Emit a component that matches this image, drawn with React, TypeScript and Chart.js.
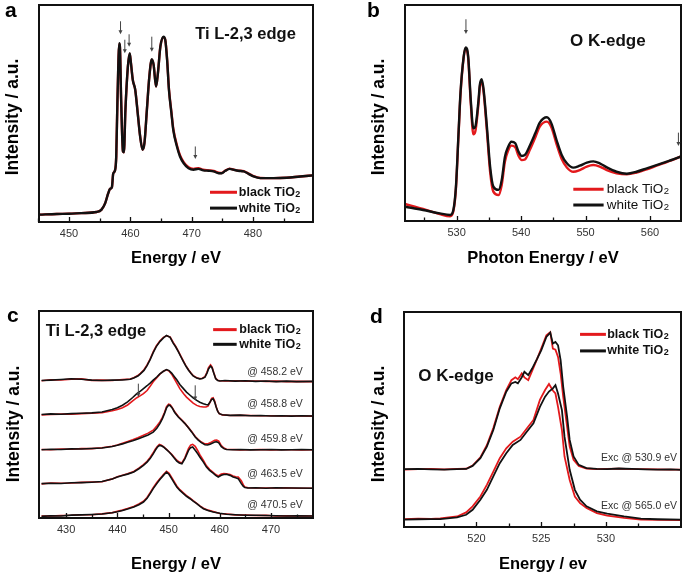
import React, { useEffect, useRef } from "react";
import { Chart, registerables } from "chart.js";

Chart.register(...registerables);

const FONT = "'Liberation Sans', Arial, Helvetica, sans-serif";
const RED = "#e3191c";
const BLACK = "#111111";

// ---------------- Panel a : Ti L-2,3 edge (TEY) ----------------
const aEnergy = [445.2, 448, 450, 452, 454.5, 455.3, 455.9, 456.4, 456.7, 457.0, 457.2, 457.5, 457.7, 457.9, 458.2, 458.3, 458.5, 458.8, 458.95, 459.2, 459.6, 459.9, 460.1, 460.4, 460.8, 461.2, 461.6, 462.0, 462.3, 462.7, 463.1, 463.5, 463.8, 464.2, 464.5, 464.9, 465.4, 465.7, 466.0, 466.3, 466.7, 467.0, 467.6, 468.1, 468.7, 469.5, 470.3, 471.1, 471.9, 472.8, 473.6, 474.4, 474.9, 475.5, 476.2, 476.8, 477.6, 478.5, 479.3, 480.1, 481.2, 483.4, 485.5, 487.7, 489.8];
const aWhite = [3.4, 3.7, 3.8, 4.1, 4.6, 5.7, 8.7, 13.3, 15.3, 16.1, 22.2, 23.8, 30.2, 56.3, 82.4, 80.8, 56.3, 32.5, 32.1, 51.7, 71.6, 77.8, 73.2, 65.5, 60.9, 50.2, 39.4, 33.3, 36.3, 51.7, 67.0, 75.0, 72.4, 62.4, 68.6, 80.8, 85.4, 83.9, 74.7, 60.9, 50.2, 42.5, 34.8, 30.2, 27.1, 24.8, 24.1, 24.5, 23.8, 23.6, 23.3, 22.5, 22.5, 23.6, 24.5, 24.1, 23.6, 23.3, 22.2, 21.0, 20.2, 20.2, 20.4, 21.0, 21.5];
const aBlack = [3.4, 3.7, 3.8, 4.1, 4.6, 5.7, 8.7, 13.3, 15.3, 16.1, 22.2, 23.8, 30.2, 56.3, 82.0, 80.6, 56.3, 32.5, 32.1, 51.7, 71.6, 77.6, 73.2, 65.5, 60.9, 50.4, 39.6, 33.3, 36.3, 51.7, 67.0, 74.8, 72.4, 62.4, 68.6, 80.8, 85.2, 83.9, 74.9, 61.3, 50.8, 43.1, 35.4, 30.8, 27.6, 25.2, 24.5, 24.8, 24.1, 23.8, 23.5, 22.7, 22.6, 23.7, 24.6, 24.2, 23.7, 23.4, 22.3, 21.1, 20.3, 20.2, 20.4, 21.0, 21.5];

// ---------------- Panel b : O K-edge (TEY) ----------------
const bEnergy = [522.0, 524.8, 527.4, 529.0, 529.5, 529.9, 530.3, 530.6, 531.1, 531.4, 531.8, 532.2, 532.6, 532.9, 533.4, 533.6, 533.9, 534.2, 534.7, 535.2, 535.7, 536.5, 537.0, 537.5, 538.0, 538.5, 539.1, 539.6, 540.1, 540.6, 541.4, 542.2, 542.9, 544.0, 544.7, 545.5, 546.3, 547.1, 548.1, 549.1, 550.2, 551.2, 552.2, 553.3, 554.8, 556.4, 557.9, 559.5, 561.0, 562.6, 563.6, 564.7];
const bWhite = [6.6, 5.1, 3.5, 2.8, 5.1, 15.9, 40.6, 59.1, 76.1, 80.4, 76.1, 56.0, 42.9, 43.7, 56.0, 63.0, 65.7, 60.6, 43.7, 25.2, 15.9, 14.4, 19.0, 29.8, 34.4, 36.7, 36.0, 32.1, 30.1, 30.6, 35.2, 40.6, 45.5, 48.0, 45.2, 37.5, 30.6, 26.7, 24.7, 25.6, 27.0, 27.6, 26.7, 24.8, 22.8, 21.9, 22.8, 24.4, 25.9, 27.5, 28.5, 29.8];
const bBlack = [7.9, 5.6, 3.2, 2.2, 4.5, 15.1, 39.8, 58.3, 75.8, 79.9, 75.3, 54.5, 40.1, 41.4, 54.5, 61.9, 64.8, 59.4, 41.8, 22.8, 13.6, 12.0, 16.7, 27.5, 32.6, 34.9, 34.1, 30.2, 28.2, 28.5, 33.2, 38.7, 43.7, 46.0, 43.4, 35.6, 28.7, 24.8, 22.8, 23.6, 25.2, 25.9, 25.2, 23.6, 22.1, 21.6, 22.4, 23.9, 25.6, 27.3, 28.4, 29.8];

// ---------------- Panel c : Ti L-2,3 edge RIXS at several excitations ----------------
const cExcitations = ["@ 458.2 eV", "@ 458.8 eV", "@ 459.8 eV", "@ 463.5 eV", "@ 470.5 eV"];

const c1Energy = [425.2, 427, 429, 431, 433, 435, 437, 439, 441, 442.5, 443.2, 444, 444.5, 445.2, 445.8, 446.4, 447, 447.6, 448.3, 449, 449.6, 450.3, 450.9, 451.4, 451.9, 452.4, 452.9, 453.4, 453.9, 454.4, 454.8, 455.5, 456.1, 456.6, 457.1, 457.5, 457.8, 458.2, 458.5, 458.8, 459.2, 459.6, 460, 461, 463, 465, 467, 469, 471, 473, 475, 478.2];
const c1White = [66.4, 66.6, 66.9, 67.3, 67.0, 66.6, 66.4, 66.6, 66.7, 67.0, 67.6, 68.6, 69.6, 71.3, 73.6, 76.5, 79.9, 82.8, 85.2, 87.0, 88.2, 87.3, 84.5, 82.6, 80.4, 77.9, 75.5, 73.3, 71.4, 69.8, 68.6, 67.6, 67.2, 67.4, 68.0, 70.0, 72.0, 73.4, 72.5, 70.2, 67.3, 66.4, 66.2, 66.4, 66.1, 66.3, 66.0, 66.2, 65.9, 66.1, 65.9, 66.0];
const c1Black = [66.3, 66.8, 66.7, 67.1, 67.2, 66.5, 66.6, 66.4, 66.9, 67.1, 67.8, 68.8, 69.9, 71.6, 74.0, 76.8, 80.3, 83.1, 85.5, 87.3, 88.0, 87.5, 84.8, 82.9, 80.6, 78.2, 75.8, 73.5, 71.6, 69.9, 68.8, 67.8, 67.3, 67.5, 68.3, 70.4, 72.6, 74.0, 72.9, 70.4, 67.5, 66.5, 66.3, 66.2, 66.3, 66.1, 66.2, 66.0, 66.1, 65.9, 66.0, 65.9];

const c2Energy = [425.2, 427, 429, 431, 433, 435, 437, 439, 440, 441, 442, 443, 443.8, 444.5, 445.1, 445.8, 446.4, 447, 447.7, 448.3, 449, 449.6, 450.1, 450.6, 451.1, 451.6, 452.2, 452.9, 453.5, 454.2, 454.8, 455.5, 456.1, 456.8, 457.3, 457.7, 458.1, 458.4, 458.7, 459, 459.3, 459.6, 459.9, 460.5, 462, 464, 466, 468, 470, 472, 474, 476, 478.2];
const c2White = [50.0, 50.3, 50.1, 50.4, 50.6, 50.8, 51.2, 52.4, 53.3, 54.5, 56.1, 58.2, 60.1, 61.3, 62.5, 63.9, 65.2, 66.6, 68.1, 69.6, 70.9, 71.7, 71.2, 70.0, 68.4, 66.8, 64.5, 62.5, 60.8, 59.3, 58.0, 56.8, 55.9, 55.2, 54.8, 54.6, 56.0, 57.3, 57.6, 56.0, 53.5, 51.5, 50.4, 49.9, 49.6, 49.7, 49.4, 49.5, 49.3, 49.4, 49.2, 49.4, 49.3];
const c2Black = [49.8, 50.0, 50.2, 50.2, 50.4, 50.6, 50.9, 51.8, 52.4, 53.3, 54.6, 56.6, 58.1, 59.1, 60.1, 61.6, 63.6, 65.8, 67.8, 69.5, 70.9, 71.6, 71.0, 69.5, 67.4, 65.2, 62.5, 60.1, 58.4, 56.8, 55.5, 54.4, 53.9, 53.6, 53.6, 54.0, 56.0, 57.8, 58.1, 56.5, 53.8, 51.6, 50.4, 49.8, 49.5, 49.6, 49.5, 49.4, 49.4, 49.3, 49.3, 49.3, 49.2];

const c3Energy = [425.2, 427, 429, 431, 433, 435, 437, 439, 440, 441, 442, 443, 444, 445, 446, 447, 447.7, 448.3, 448.8, 449.2, 449.6, 450, 450.3, 450.7, 451.2, 451.9, 452.6, 453.2, 453.8, 454.5, 455.2, 455.8, 456.4, 457.1, 457.6, 458.1, 458.6, 459, 459.4, 459.8, 460.3, 460.8, 461.3, 462.5, 464, 466, 468, 470, 472, 474, 476, 478.2];
const c3White = [33.0, 33.2, 33.1, 33.4, 33.3, 33.6, 33.8, 34.5, 35.1, 35.8, 36.6, 37.3, 38.2, 39.1, 40.1, 41.5, 43.3, 45.6, 48.0, 50.4, 53.2, 54.5, 54.4, 53.2, 51.0, 48.8, 47.1, 45.6, 43.8, 41.6, 39.1, 37.6, 36.4, 35.4, 35.3, 35.6, 36.2, 36.7, 36.8, 36.3, 34.5, 33.5, 33.1, 33.0, 33.1, 32.9, 33.0, 33.1, 32.9, 33.0, 33.1, 33.0];
const c3Black = [33.1, 33.0, 33.3, 33.2, 33.5, 33.5, 33.9, 34.7, 35.3, 36.1, 36.9, 37.8, 38.8, 39.9, 41.0, 42.4, 44.5, 46.4, 48.6, 51.0, 53.8, 55.0, 54.7, 53.4, 51.3, 49.0, 47.3, 45.7, 43.9, 41.8, 39.4, 37.9, 36.7, 35.8, 35.8, 36.3, 37.0, 37.5, 37.6, 37.1, 35.0, 33.8, 33.2, 33.1, 32.9, 33.0, 33.1, 32.9, 33.0, 33.0, 32.9, 33.0];

const c4Energy = [425.2, 427, 429, 431, 433, 435, 437, 439, 440, 441, 442, 443.2, 444.2, 445.1, 445.8, 446.4, 447, 447.4, 447.8, 448.2, 448.6, 449, 449.6, 450.1, 450.6, 451.1, 451.6, 452.1, 452.6, 453.2, 453.6, 453.9, 454.3, 454.7, 455.2, 455.7, 456.1, 456.8, 457.4, 458, 458.7, 459.2, 459.7, 460.3, 460.8, 461.3, 462, 462.6, 463.1, 463.6, 464.2, 464.6, 464.9, 465.5, 467, 469, 471, 473, 475, 478.2];
const c4White = [16.6, 16.8, 16.7, 17.0, 17.1, 17.3, 17.6, 18.8, 19.8, 20.5, 21.2, 22.2, 23.8, 25.4, 27.0, 28.7, 31.0, 32.7, 34.2, 35.1, 34.9, 34.3, 33.0, 31.9, 30.6, 29.0, 27.5, 26.6, 26.2, 28.7, 31.0, 32.7, 34.0, 34.3, 32.7, 31.0, 29.5, 27.0, 24.6, 23.0, 21.7, 20.6, 19.8, 20.6, 21.0, 21.1, 20.6, 19.8, 19.4, 19.0, 16.6, 15.3, 14.7, 14.5, 14.6, 14.4, 14.6, 14.5, 14.5, 14.4];
const c4Black = [16.5, 16.9, 16.8, 16.9, 17.2, 17.4, 17.5, 18.9, 19.9, 20.7, 21.4, 22.5, 24.1, 25.8, 27.4, 29.2, 31.5, 33.2, 34.5, 35.5, 35.2, 34.5, 33.2, 32.0, 30.8, 29.3, 27.9, 27.0, 26.6, 29.2, 31.8, 33.6, 35.2, 35.6, 34.6, 32.5, 30.6, 27.8, 25.2, 23.5, 22.1, 21.0, 20.3, 21.2, 21.5, 21.4, 21.0, 20.3, 19.9, 19.8, 18.0, 16.0, 15.0, 14.6, 14.5, 14.5, 14.5, 14.6, 14.4, 14.4];

const c5Energy = [425.2, 427, 429, 431, 433, 435, 437, 439, 440, 441, 442, 443.2, 444.2, 445.1, 445.8, 446.4, 447, 447.7, 448.3, 449, 449.6, 450.1, 450.6, 451.1, 451.6, 452.2, 452.9, 453.5, 454.2, 454.8, 455.5, 456.1, 456.8, 457.7, 458.7, 460, 461.3, 463, 465, 467, 469, 471, 473, 475, 478.2];
const c5White = [0.8, 1.1, 1.0, 1.4, 1.5, 1.7, 1.9, 2.5, 3.0, 3.6, 4.3, 5.3, 6.4, 7.7, 9.5, 11.8, 14.2, 16.6, 18.6, 20.6, 22.2, 21.0, 19.0, 17.0, 15.0, 13.3, 11.8, 10.5, 9.3, 8.1, 6.9, 5.7, 4.5, 3.6, 2.9, 2.3, 1.8, 1.6, 1.3, 1.3, 1.2, 1.1, 1.0, 1.1, 1.0];
const c5Black = [0.9, 1.0, 1.2, 1.3, 1.6, 1.6, 2.0, 2.6, 3.2, 3.8, 4.6, 5.6, 6.8, 8.1, 9.9, 12.2, 14.7, 17.1, 19.0, 21.0, 22.6, 21.6, 19.6, 17.6, 15.5, 13.7, 12.1, 10.8, 9.6, 8.4, 7.1, 5.9, 4.7, 3.8, 3.1, 2.2, 1.9, 1.5, 1.4, 1.2, 1.3, 1.0, 1.1, 1.0, 1.0];

// ---------------- Panel d : O K-edge XES ----------------
const dExcitations = ["Exc @ 530.9 eV", "Exc @ 565.0 eV"];

const dUpperEnergy = [514.4, 515.5, 516.5, 517.5, 518.5, 519.2, 519.7, 520.3, 520.8, 521.3, 521.8, 522.3, 522.7, 523.0, 523.2, 523.5, 523.7, 524.0, 524.3, 524.7, 525.0, 525.4, 525.7, 525.9, 526.1, 526.3, 526.5, 526.7, 527.0, 527.2, 527.5, 527.9, 528.5, 529.3, 530.1, 531, 532, 533, 534, 535, 535.8];
const dUpperWhite = [26.9, 27.0, 26.8, 26.7, 26.9, 27.0, 28.4, 32.0, 37.4, 45.1, 55.2, 62.9, 66.8, 67.5, 66.8, 69.6, 72.2, 70.6, 73.7, 78.4, 82.2, 88.4, 90.4, 85.3, 86.1, 84.5, 77.6, 65.2, 51.3, 40.5, 32.8, 28.9, 27.4, 27.0, 26.9, 27.2, 27.0, 26.8, 26.7, 26.8, 26.6];
const dUpperBlack = [26.7, 26.9, 27.0, 26.8, 27.0, 27.1, 28.6, 32.4, 38.0, 46.0, 55.9, 63.7, 68.3, 69.6, 68.7, 71.4, 69.6, 68.3, 72.6, 78.4, 83.0, 89.2, 90.6, 83.0, 82.5, 79.1, 71.4, 60.6, 46.7, 37.4, 31.2, 28.4, 27.2, 26.9, 27.0, 27.1, 26.9, 26.9, 26.8, 26.7, 26.7];

const dLowerEnergy = [514.4, 515.5, 516.5, 517.2, 518.5, 519.2, 519.7, 520.3, 520.8, 521.3, 521.8, 522.3, 522.8, 523.4, 523.9, 524.4, 524.9, 525.3, 525.6, 525.9, 526.1, 526.3, 526.6, 526.8, 527.2, 527.6, 528.0, 528.5, 529.3, 530.1, 531.4, 532.7, 534, 535.8];
const dLowerWhite = [3.4, 3.6, 3.7, 3.7, 4.5, 5.7, 8.0, 12.7, 17.3, 23.5, 29.7, 34.3, 38.2, 40.5, 44.4, 48.2, 55.9, 60.6, 63.0, 64.5, 66.0, 62.1, 54.4, 42.0, 26.6, 17.3, 12.7, 9.6, 7.3, 6.2, 4.9, 3.9, 3.6, 3.4];
const dLowerBlack = [3.7, 3.9, 3.8, 4.0, 4.9, 6.8, 9.6, 14.2, 19.6, 25.8, 32.0, 36.6, 39.7, 42.0, 45.9, 49.8, 59.1, 63.7, 66.5, 63.5, 62.1, 55.9, 45.1, 32.8, 21.9, 14.2, 11.1, 8.8, 6.5, 5.3, 4.2, 3.4, 3.3, 3.2];

// ---------------- Tick labels ----------------
const aTicks = [450, 460, 470, 480];
const aMinor = [445, 455, 465, 475, 485];
const bTicks = [530, 540, 550, 560];
const bMinor = [525, 535, 545, 555];
const cTicks = [430, 440, 450, 460, 470];
const cMinor = [435, 445, 455, 465, 475];
const dTicks = [520, 525, 530];
const dMinor = [517.5, 522.5, 527.5, 532.5];

const LEGEND_LABELS = ["black TiO", "white TiO"];

type Series = { x: number[]; y: number[]; color: string };
type Arrow = { x: number; y1: number; y2: number };
type Label = { x: number; y: number; text: string; font: string; color: string; align: CanvasTextAlign };

type PanelCfg = {
  left: number; top: number; width: number; height: number;
  area: { l: number; t: number; r: number; b: number };
  xMin: number; xMax: number; ticks: number[]; minor: number[];
  series: Series[]; lineWidth: number; smooth: boolean;
  arrows: Arrow[]; labels: Label[];
  legend: { x1: number; x2: number; xt: number; y: number[]; font: string; subFont: string; lw: number };
  letter: { text: string; x: number; y: number };
  xTitle: { text: string; x: number; y: number };
  yTitle: { text: string; x: number; y: number };
};

// Chart.js paints dataset 0 last (on top): white TiO2 (black line) first, black TiO2 (red line) under it.
function pair(x: number[], blackSample: number[], whiteSample: number[]): Series[] {
  return [
    { x, y: whiteSample, color: BLACK },
    { x, y: blackSample, color: RED },
  ];
}

const panels: PanelCfg[] = [
  {
    left: 0, top: 0, width: 342, height: 287,
    area: { l: 39, t: 5, r: 313, b: 222 },
    xMin: 445.1, xMax: 489.8, ticks: aTicks, minor: aMinor,
    series: pair(aEnergy, aBlack, aWhite), lineWidth: 2.4, smooth: true,
    arrows: [
      { x: 458.4, y1: 92.5, y2: 86.5 },
      { x: 459.1, y1: 84.0, y2: 77.8 },
      { x: 459.8, y1: 86.5, y2: 80.8 },
      { x: 463.5, y1: 85.4, y2: 78.5 },
      { x: 470.6, y1: 34.8, y2: 29.0 },
    ],
    labels: [{ x: 470.6, y: 86.5, text: "Ti L-2,3 edge", font: `bold 16.5px ${FONT}`, color: "#111", align: "left" }],
    legend: { x1: 473.0, x2: 477.4, xt: 477.7, y: [13.7, 6.4], font: `bold 12.5px ${FONT}`, subFont: `bold 9px ${FONT}`, lw: 3 },
    letter: { text: "a", x: 5, y: 17 },
    xTitle: { text: "Energy / eV", x: 176, y: 263 },
    yTitle: { text: "Intensity / a.u.", x: 18, y: 117 },
  },
  {
    left: 342, top: 0, width: 343, height: 287,
    area: { l: 63, t: 5, r: 339, b: 221 },
    xMin: 522, xMax: 564.8, ticks: bTicks, minor: bMinor,
    series: pair(bEnergy, bBlack, bWhite), lineWidth: 2.4, smooth: true,
    arrows: [
      { x: 531.45, y1: 93.4, y2: 86.6 },
      { x: 564.4, y1: 40.9, y2: 34.7 },
    ],
    labels: [{ x: 547.6, y: 83.0, text: "O K-edge", font: `bold 17px ${FONT}`, color: "#111", align: "left" }],
    legend: { x1: 548.1, x2: 552.8, xt: 553.3, y: [14.7, 7.4], font: `13.5px ${FONT}`, subFont: `9.5px ${FONT}`, lw: 3 },
    letter: { text: "b", x: 367, y: 17 },
    xTitle: { text: "Photon Energy / eV", x: 543, y: 263 },
    yTitle: { text: "Intensity / a.u.", x: 384, y: 117 },
  },
  {
    left: 0, top: 287, width: 342, height: 287,
    area: { l: 39, t: 24, r: 313, b: 231 },
    xMin: 424.7, xMax: 478.2, ticks: cTicks, minor: cMinor,
    series: [
      ...pair(c1Energy, c1Black, c1White),
      ...pair(c2Energy, c2Black, c2White),
      ...pair(c3Energy, c3Black, c3White),
      ...pair(c4Energy, c4Black, c4White),
      ...pair(c5Energy, c5Black, c5White),
    ],
    lineWidth: 1.6, smooth: false,
    arrows: [
      { x: 444.1, y1: 64.9, y2: 58.5 },
      { x: 455.2, y1: 64.1, y2: 56.8 },
    ],
    labels: [
      { x: 426.0, y: 89.9, text: "Ti L-2,3 edge", font: `bold 16.5px ${FONT}`, color: "#111", align: "left" },
      ...cExcitations.map((t, i) => ({ x: 476.2, y: [70.5, 54.9, 38.0, 21.4, 6.1][i], text: t, font: `10.5px ${FONT}`, color: "#333", align: "right" as CanvasTextAlign })),
    ],
    legend: { x1: 458.7, x2: 463.3, xt: 463.8, y: [91.0, 83.9], font: `bold 12.5px ${FONT}`, subFont: `bold 9px ${FONT}`, lw: 3 },
    letter: { text: "c", x: 7, y: 322 },
    xTitle: { text: "Energy / eV", x: 176, y: 569 },
    yTitle: { text: "Intensity / a.u.", x: 19, y: 424 },
  },
  {
    left: 342, top: 287, width: 343, height: 287,
    area: { l: 62, t: 25, r: 339, b: 240 },
    xMin: 514.4, xMax: 535.8, ticks: dTicks, minor: dMinor,
    series: [
      ...pair(dUpperEnergy, dUpperBlack, dUpperWhite),
      ...pair(dLowerEnergy, dLowerBlack, dLowerWhite),
    ],
    lineWidth: 1.8, smooth: false,
    arrows: [],
    labels: [
      { x: 515.5, y: 70.2, text: "O K-edge", font: `bold 17px ${FONT}`, color: "#111", align: "left" },
      ...dExcitations.map((t, i) => ({ x: 535.5, y: [32.0, 9.9][i], text: t, font: `10.5px ${FONT}`, color: "#333", align: "right" as CanvasTextAlign })),
    ],
    legend: { x1: 528.0, x2: 530.0, xt: 530.1, y: [89.6, 81.9], font: `bold 12.5px ${FONT}`, subFont: `bold 9px ${FONT}`, lw: 3 },
    letter: { text: "d", x: 370, y: 323 },
    xTitle: { text: "Energy / ev", x: 543, y: 569 },
    yTitle: { text: "Intensity / a.u.", x: 384, y: 424 },
  },
];

const TICK_PAD = 5;
const TICK_FONT_SIZE = 11;

function Panel({ cfg }: { cfg: PanelCfg }) {
  const ref = useRef<HTMLCanvasElement>(null);
  useEffect(() => {
    const canvas = ref.current;
    if (!canvas) return;
    const axisH = TICK_FONT_SIZE * 1.2 + TICK_PAD * 2;
    const deco = {
      id: "deco",
      afterDraw(chart: any) {
        const ctx: CanvasRenderingContext2D = chart.ctx;
        const { left, right, top, bottom } = chart.chartArea;
        const xs = chart.scales.x;
        const ys = chart.scales.y;
        ctx.save();
        // frame
        ctx.strokeStyle = "#111";
        ctx.lineWidth = 2;
        ctx.strokeRect(left, top, right - left, bottom - top);
        // inward ticks
        ctx.lineWidth = 1.3;
        ctx.beginPath();
        cfg.ticks.forEach((v) => {
          const px = Math.round(xs.getPixelForValue(v)) + 0.5;
          ctx.moveTo(px, bottom);
          ctx.lineTo(px, bottom - 5);
        });
        cfg.minor.forEach((v) => {
          const px = Math.round(xs.getPixelForValue(v)) + 0.5;
          ctx.moveTo(px, bottom);
          ctx.lineTo(px, bottom - 3.5);
        });
        ctx.stroke();
        // arrows
        ctx.strokeStyle = "#444";
        ctx.fillStyle = "#444";
        ctx.lineWidth = 1;
        cfg.arrows.forEach((a) => {
          const px = xs.getPixelForValue(a.x);
          const p1 = ys.getPixelForValue(a.y1);
          const p2 = ys.getPixelForValue(a.y2);
          ctx.beginPath();
          ctx.moveTo(px, p1);
          ctx.lineTo(px, p2 - 3);
          ctx.stroke();
          ctx.beginPath();
          ctx.moveTo(px - 2, p2 - 4);
          ctx.lineTo(px + 2, p2 - 4);
          ctx.lineTo(px, p2);
          ctx.closePath();
          ctx.fill();
        });
        // labels
        ctx.textBaseline = "middle";
        cfg.labels.forEach((l) => {
          ctx.font = l.font;
          ctx.fillStyle = l.color;
          ctx.textAlign = l.align;
          ctx.fillText(l.text, xs.getPixelForValue(l.x), ys.getPixelForValue(l.y));
        });
        // legend
        const lg = cfg.legend;
        [RED, BLACK].forEach((c, i) => {
          const py = ys.getPixelForValue(lg.y[i]);
          ctx.strokeStyle = c;
          ctx.lineWidth = lg.lw;
          ctx.beginPath();
          ctx.moveTo(xs.getPixelForValue(lg.x1), py);
          ctx.lineTo(xs.getPixelForValue(lg.x2), py);
          ctx.stroke();
          ctx.fillStyle = "#111";
          ctx.textAlign = "left";
          ctx.textBaseline = "middle";
          ctx.font = lg.font;
          const tx = xs.getPixelForValue(lg.xt);
          ctx.fillText(LEGEND_LABELS[i], tx, py);
          const w = ctx.measureText(LEGEND_LABELS[i]).width;
          ctx.font = lg.subFont;
          ctx.textBaseline = "alphabetic";
          ctx.fillText("2", tx + w + 0.5, py + 4.5);
        });
        // panel letter & axis titles (absolute page coordinates)
        ctx.fillStyle = "#000";
        ctx.textBaseline = "alphabetic";
        ctx.textAlign = "left";
        ctx.font = `bold 21px ${FONT}`;
        ctx.fillText(cfg.letter.text, cfg.letter.x - cfg.left, cfg.letter.y - cfg.top);
        ctx.textAlign = "center";
        ctx.font = `bold 16.5px ${FONT}`;
        ctx.fillText(cfg.xTitle.text, cfg.xTitle.x - cfg.left, cfg.xTitle.y - cfg.top);
        ctx.save();
        ctx.translate(cfg.yTitle.x - cfg.left, cfg.yTitle.y - cfg.top);
        ctx.rotate(-Math.PI / 2);
        ctx.font = `bold 17.5px ${FONT}`;
        ctx.fillText(cfg.yTitle.text, 0, 0);
        ctx.restore();
        ctx.restore();
      },
    };
    const chart = new Chart(canvas, {
      type: "line",
      data: {
        datasets: cfg.series.map((s) => ({
          data: s.x.map((x, i) => ({ x, y: s.y[i] })),
          borderColor: s.color,
          borderWidth: cfg.lineWidth,
          pointRadius: 0,
          fill: false,
          cubicInterpolationMode: cfg.smooth ? "monotone" : "default",
          tension: 0,
        })),
      },
      options: {
        animation: false,
        responsive: false,
        maintainAspectRatio: false,
        events: [],
        layout: {
          padding: {
            left: cfg.area.l,
            top: cfg.area.t,
            right: cfg.width - cfg.area.r,
            bottom: cfg.height - cfg.area.b - axisH,
          },
        },
        plugins: { legend: { display: false }, tooltip: { enabled: false }, title: { display: false } },
        scales: {
          x: {
            type: "linear",
            min: cfg.xMin,
            max: cfg.xMax,
            afterBuildTicks: (scale: any) => {
              scale.ticks = cfg.ticks.map((v) => ({ value: v }));
            },
            grid: { display: false, drawTicks: false },
            border: { display: false },
            ticks: {
              padding: TICK_PAD,
              color: "#333",
              font: { size: TICK_FONT_SIZE, family: FONT },
              maxRotation: 0,
              autoSkip: false,
            },
          },
          y: { type: "linear", min: 0, max: 100, display: false },
        },
      },
      plugins: [deco],
    } as any);
    return () => chart.destroy();
  }, [cfg]);
  return (
    <canvas
      ref={ref}
      width={cfg.width}
      height={cfg.height}
      style={{ position: "absolute", left: cfg.left, top: cfg.top, width: cfg.width, height: cfg.height }}
    />
  );
}

export default function App() {
  return (
    <div style={{ position: "absolute", left: 0, top: 0, width: 685, height: 574, background: "#fff" }}>
      {panels.map((p, i) => (
        <Panel key={i} cfg={p} />
      ))}
    </div>
  );
}
